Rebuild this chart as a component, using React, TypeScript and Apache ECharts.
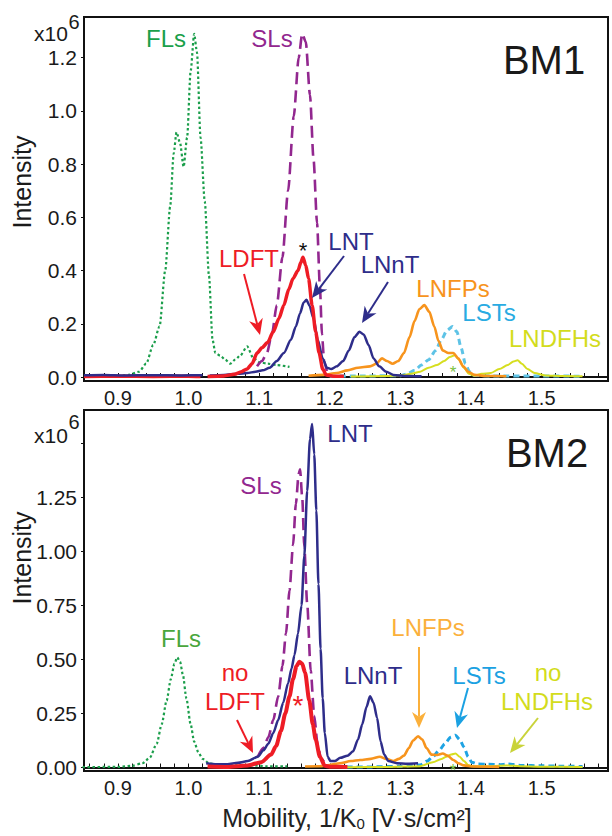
import React, { useEffect, useRef } from "react";
import * as echarts from "echarts";

// ---------- DATA (x = mobility 1/K0, y = intensity x10^6) ----------
const xTicks = [0.9, 1.0, 1.1, 1.2, 1.3, 1.4, 1.5];
const yTicksTop = [0, 0.2, 0.4, 0.6, 0.8, 1.0, 1.2];
const yTicksBottom = [0, 0.25, 0.5, 0.75, 1.0, 1.25];

// BM1
const bm1FLs = [[0.9,0.003],[0.915,0.008],[0.93,0.02],[0.94,0.05],[0.95,0.12],[0.959,0.19],[0.967,0.40],[0.974,0.64],[0.979,0.84],[0.983,0.92],[0.988,0.88],[0.993,0.79],[0.998,0.90],[1.003,1.15],[1.008,1.29],[1.012,1.22],[1.017,0.90],[1.023,0.66],[1.029,0.38],[1.034,0.14],[1.038,0.09],[1.045,0.08],[1.052,0.065],[1.059,0.05],[1.066,0.065],[1.073,0.08],[1.083,0.115],[1.092,0.07],[1.101,0.055],[1.112,0.05],[1.125,0.045],[1.143,0.038]];
const bm1SLs = [[1.097,0.04],[1.104,0.06],[1.111,0.09],[1.118,0.16],[1.125,0.27],[1.133,0.45],[1.141,0.70],[1.149,0.98],[1.156,1.20],[1.161,1.29],[1.166,1.26],[1.172,1.06],[1.177,0.82],[1.182,0.58],[1.186,0.34],[1.189,0.16],[1.192,0.06],[1.196,0.02]];
const bm1LNT = [[0.852,0.007],[0.88,0.008],[0.91,0.006],[0.95,0.007],[0.99,0.006],[1.02,0.007],[1.025,"-"],[1.03,0.006],[1.05,0.008],[1.07,0.012],[1.083,0.015],[1.095,0.02],[1.105,0.025],[1.115,0.035],[1.125,0.06],[1.135,0.09],[1.145,0.14],[1.152,0.19],[1.158,0.24],[1.163,0.28],[1.167,0.29],[1.171,0.27],[1.177,0.22],[1.183,0.14],[1.19,0.07],[1.196,0.035],[1.202,0.03],[1.21,0.04],[1.219,0.06],[1.227,0.10],[1.235,0.15],[1.242,0.17],[1.248,0.16],[1.255,0.12],[1.262,0.07],[1.27,0.04],[1.28,0.02],[1.29,0.008],[1.31,0.004],[1.33,0.003]];
const bm1LDFT = [[0.852,0.002],[0.9,0.003],[0.95,0.002],[1.0,0.003],[1.017,0.002],[1.022,"-"],[1.027,0.002],[1.05,0.004],[1.065,0.01],[1.075,0.02],[1.083,0.03],[1.09,0.05],[1.097,0.09],[1.104,0.11],[1.112,0.13],[1.12,0.17],[1.128,0.22],[1.135,0.27],[1.142,0.33],[1.148,0.37],[1.155,0.40],[1.159,0.43],[1.162,0.45],[1.166,0.42],[1.17,0.37],[1.175,0.27],[1.18,0.17],[1.185,0.09],[1.19,0.03],[1.195,0.008],[1.205,0.003],[1.22,0.003]];
const bm1LNFPs = [[1.17,0.005],[1.19,0.008],[1.21,0.015],[1.225,0.025],[1.24,0.035],[1.257,0.04],[1.266,0.05],[1.274,0.07],[1.281,0.06],[1.289,0.05],[1.297,0.06],[1.305,0.09],[1.313,0.15],[1.32,0.21],[1.327,0.255],[1.334,0.27],[1.341,0.245],[1.348,0.19],[1.354,0.135],[1.36,0.10],[1.368,0.09],[1.375,0.09],[1.382,0.07],[1.389,0.04],[1.396,0.02],[1.405,0.008],[1.42,0.004],[1.45,0.003]];
const bm1LSTs = [[1.2,0.003],[1.25,0.004],[1.3,0.005],[1.31,0.012],[1.32,0.025],[1.33,0.045],[1.34,0.065],[1.35,0.10],[1.358,0.14],[1.366,0.175],[1.374,0.19],[1.38,0.17],[1.386,0.11],[1.392,0.05],[1.398,0.02],[1.405,0.006],[1.43,0.004],[1.5,0.004],[1.555,0.003]];
const bm1LNDFHs = [[1.23,0.002],[1.28,0.004],[1.3,0.006],[1.315,0.012],[1.328,0.02],[1.34,0.035],[1.352,0.045],[1.362,0.06],[1.37,0.075],[1.377,0.082],[1.383,0.065],[1.39,0.035],[1.397,0.012],[1.405,0.005],[1.415,0.012],[1.428,0.015],[1.44,0.03],[1.452,0.045],[1.46,0.058],[1.466,0.063],[1.472,0.05],[1.48,0.03],[1.49,0.015],[1.505,0.006],[1.53,0.004],[1.558,0.003]];

// BM2
const bm2FLs = [[0.85,0.002],[0.9,0.003],[0.92,0.008],[0.935,0.02],[0.945,0.045],[0.955,0.11],[0.962,0.2],[0.969,0.31],[0.975,0.41],[0.98,0.48],[0.984,0.51],[0.988,0.49],[0.992,0.43],[0.997,0.32],[1.003,0.2],[1.008,0.12],[1.014,0.07],[1.02,0.04],[1.03,0.018],[1.045,0.012],[1.065,0.01],[1.09,0.01],[1.11,0.006],[1.14,0.005]];
const bm2SLs = [[1.098,0.05],[1.106,0.09],[1.113,0.14],[1.12,0.22],[1.127,0.33],[1.133,0.47],[1.138,0.62],[1.143,0.82],[1.148,1.03],[1.152,1.22],[1.156,1.36],[1.158,1.38],[1.161,1.25],[1.164,1.02],[1.168,0.76],[1.173,0.45],[1.178,0.24],[1.183,0.10],[1.188,0.04],[1.195,0.01]];
const bm2LNT = [[1.025,0.02],[1.04,0.015],[1.055,0.015],[1.07,0.022],[1.084,0.03],[1.098,0.05],[1.106,0.08],[1.113,0.11],[1.12,0.16],[1.127,0.22],[1.134,0.30],[1.141,0.39],[1.146,0.46],[1.15,0.52],[1.155,0.62],[1.16,0.75],[1.164,0.98],[1.168,1.28],[1.172,1.52],[1.175,1.59],[1.178,1.45],[1.181,1.19],[1.184,0.85],[1.187,0.55],[1.19,0.32],[1.193,0.16],[1.197,0.05],[1.201,0.03],[1.207,0.03],[1.215,0.045],[1.225,0.055],[1.233,0.075],[1.24,0.13],[1.246,0.2],[1.252,0.28],[1.257,0.33],[1.262,0.3],[1.267,0.23],[1.272,0.12],[1.277,0.06],[1.283,0.03],[1.295,0.02],[1.31,0.018],[1.325,0.02]];
const bm2LDFT = [[1.027,0.005],[1.055,0.003],[1.084,0.01],[1.103,0.025],[1.117,0.06],[1.124,0.1],[1.131,0.17],[1.137,0.25],[1.143,0.33],[1.148,0.41],[1.153,0.47],[1.157,0.49],[1.161,0.48],[1.165,0.44],[1.171,0.31],[1.176,0.2],[1.18,0.13],[1.186,0.05],[1.193,0.008],[1.2,0.004],[1.225,0.003]];
const bm2LNFPs = [[1.165,0.005],[1.186,0.006],[1.2,0.012],[1.214,0.02],[1.23,0.03],[1.243,0.035],[1.258,0.04],[1.271,0.05],[1.28,0.04],[1.29,0.03],[1.298,0.04],[1.305,0.055],[1.312,0.09],[1.318,0.125],[1.325,0.145],[1.331,0.13],[1.337,0.09],[1.344,0.06],[1.352,0.058],[1.36,0.065],[1.367,0.055],[1.375,0.035],[1.382,0.02],[1.39,0.01],[1.403,0.005],[1.44,0.003]];
const bm2LSTs = [[1.224,0.002],[1.26,0.003],[1.3,0.006],[1.328,0.012],[1.338,0.03],[1.346,0.05],[1.355,0.08],[1.363,0.11],[1.371,0.14],[1.378,0.15],[1.384,0.13],[1.39,0.095],[1.396,0.05],[1.401,0.025],[1.41,0.016],[1.425,0.015],[1.44,0.013],[1.452,0.016],[1.47,0.01],[1.5,0.008],[1.53,0.006],[1.558,0.005]];
const bm2LNDFHs = [[1.224,0.001],[1.28,0.003],[1.328,0.006],[1.346,0.025],[1.358,0.04],[1.365,0.05],[1.372,0.06],[1.378,0.065],[1.384,0.05],[1.39,0.03],[1.396,0.012],[1.403,0.006],[1.43,0.006],[1.45,0.01],[1.47,0.006],[1.5,0.004],[1.558,0.003]];

// ---------- STYLE ----------
const C = {
  green: "#1b9e4b",
  purple: "#92278f",
  navy: "#2e2d8a",
  red: "#ee1c25",
  orange: "#f7941d",
  cyanTop: "#5ec3e6",
  cyanBot: "#1ea3e3",
  yellow: "#d6de1f",
};
const FONT = '"Liberation Sans", Arial, sans-serif';

function xMinorTicks() {
  const v: number[] = [];
  for (let i = 43; i <= 79; i++) v.push(Math.round(i * 2) / 100);
  return v;
}

// split a series at "-" gap markers
function segments(data: any[]) {
  const out: any[][] = [[]];
  data.forEach((p) => {
    if (p[1] === "-") out.push([]);
    else out[out.length - 1].push(p);
  });
  return out.filter((s) => s.length);
}

function makeXAxis(gridIndex: number) {
  return {
    type: "value",
    gridIndex,
    min: 0.852,
    max: 1.594,
    axisLine: { show: true, lineStyle: { color: "#111", width: 2 } },
    axisTick: { show: true, inside: true, length: 4, customValues: xMinorTicks(), lineStyle: { color: "#111", width: 1 } },
    axisLabel: { customValues: xTicks, color: "#1a1a1a", fontSize: 20, fontFamily: FONT, margin: 7, formatter: (v: number) => v.toFixed(1) },
    splitLine: { show: false },
  };
}

function makeYAxis(gridIndex: number, min: number, max: number, ticks: number[], dec: number, tickVals: number[]) {
  return {
    type: "value",
    gridIndex,
    min,
    max,
    axisLine: { show: true, lineStyle: { color: "#111", width: 2 } },
    axisTick: { show: true, inside: false, length: 3, customValues: tickVals, lineStyle: { color: "#111" } },
    axisLabel: { customValues: ticks, color: "#1a1a1a", fontSize: 21, fontFamily: FONT, margin: 7, formatter: (v: number) => v.toFixed(dec) },
    splitLine: { show: false },
  };
}

function line(name: string, data: any[], gi: number, color: string, width: number, type: any, z = 2) {
  return {
    name,
    type: "line",
    xAxisIndex: gi,
    yAxisIndex: gi,
    data,
    showSymbol: false,
    symbol: "none",
    smooth: 0.25,
    smoothMonotone: "x",
    z,
    lineStyle: { color, width, type, cap: "butt" },
  };
}

function lines(name: string, data: any[], gi: number, color: string, width: number, type: any, zs: number[]) {
  return segments(data).map((seg, i) => line(name, seg, gi, color, width, type, zs[Math.min(i, zs.length - 1)]));
}

function txt(x: number, y: number, s: string, color: string, size = 24, extra: any = {}) {
  return {
    type: "text",
    x,
    y,
    z: 100,
    style: { text: s, fill: color, fontSize: size, fontFamily: FONT, align: "center", verticalAlign: "middle", ...extra },
  };
}

function arrow(x1: number, y1: number, x2: number, y2: number, color: string, w = 2) {
  const dx = x2 - x1, dy = y2 - y1;
  const L = Math.hypot(dx, dy);
  const ux = dx / L, uy = dy / L;
  const hl = 16, hw = 7;
  const bx = x2 - ux * hl, by = y2 - uy * hl;
  const nx = x2 - ux * hl * 0.7, ny = y2 - uy * hl * 0.7;
  return [
    { type: "line", z: 100, shape: { x1, y1, x2: nx, y2: ny }, style: { stroke: color, lineWidth: w } },
    {
      type: "polygon",
      z: 100,
      shape: { points: [[x2, y2], [bx - uy * hw, by + ux * hw], [nx, ny], [bx + uy * hw, by - ux * hw]] },
      style: { fill: color },
    },
  ];
}

export default function App() {
  const ref = useRef<HTMLDivElement>(null);
  useEffect(() => {
    if (!ref.current) return;
    const chart = echarts.init(ref.current, null, { renderer: "svg" });
    const dash: any = [12, 6];
    const dot: any = [2.5, 2.5];
    const option: any = {
      animation: false,
      backgroundColor: "#fff",
      grid: [
        { left: 84, top: 17, width: 524, height: 364, show: true, borderColor: "#111", borderWidth: 2, backgroundColor: "transparent" },
        { left: 84, top: 410, width: 524, height: 361, show: true, borderColor: "#111", borderWidth: 2, backgroundColor: "transparent" },
      ],
      xAxis: [makeXAxis(0), makeXAxis(1)],
      yAxis: [
        makeYAxis(0, -0.015, 1.353, yTicksTop, 1, yTicksTop),
        makeYAxis(1, -0.016, 1.655, yTicksBottom, 2, [...yTicksBottom, 1.5]),
      ],
      series: [
        line("BM1 FLs", bm1FLs, 0, C.green, 2.2, dot),
        line("BM1 SLs", bm1SLs, 0, C.purple, 2.6, dash),
        line("BM1 LSTs", bm1LSTs, 0, C.cyanTop, 3, [6, 4]),
        line("BM1 LNDFHs", bm1LNDFHs, 0, C.yellow, 2),
        line("BM1 LNFPs", bm1LNFPs, 0, C.orange, 2.6, "solid"),
        ...lines("BM1 LNT", bm1LNT, 0, C.navy, 2.5, "solid", [3]),
        ...lines("BM1 LDFT", bm1LDFT, 0, C.red, 3.5, "solid", [2.5, 4]),
        line("BM2 FLs", bm2FLs, 1, C.green, 2.2, dot),
        line("BM2 SLs", bm2SLs, 1, C.purple, 2.6, dash),
        line("BM2 LSTs", bm2LSTs, 1, C.cyanBot, 3, [6, 4]),
        line("BM2 LNDFHs", bm2LNDFHs, 1, C.yellow, 2),
        line("BM2 LNFPs", bm2LNFPs, 1, C.orange, 2.6, "solid"),
        line("BM2 LNT", bm2LNT, 1, C.navy, 2.5, "solid", 3),
        line("BM2 LDFT", bm2LDFT, 1, C.red, 4, "solid", 4),
      ],
      graphic: [
        // axis multipliers
        txt(51, 33, "x10", "#1a1a1a", 21),
        txt(74, 22, "6", "#1a1a1a", 20),
        txt(51, 435, "x10", "#1a1a1a", 21),
        txt(74, 422, "6", "#1a1a1a", 20),
        // y titles
        { ...txt(22, 182, "Intensity", "#1a1a1a", 25), rotation: Math.PI / 2 },
        { ...txt(22, 558, "Intensity", "#1a1a1a", 25), rotation: Math.PI / 2 },
        // x title
        {
          type: "text",
          x: 347,
          y: 818,
          z: 100,
          style: {
            text: "{a|Mobility, 1/K}{s|0}{a| [V·s/cm²]}",
            align: "center",
            verticalAlign: "middle",
            fill: "#222",
            rich: {
              a: { fontSize: 25, fontFamily: FONT, fill: "#222" },
              s: { fontSize: 15, fontFamily: FONT, fill: "#222", padding: [10, 0, 0, 0] },
            },
          },
        },
        // panel names
        txt(544, 60, "BM1", "#1a1a1a", 40),
        txt(547, 453, "BM2", "#1a1a1a", 40),
        // BM1 labels
        txt(166, 38, "FLs", "#1aa04a"),
        txt(272, 38, "SLs", C.purple),
        txt(249, 258, "LDFT", C.red),
        txt(351, 241, "LNT", C.navy),
        txt(390, 264, "LNnT", C.navy),
        txt(453, 288, "LNFPs", C.orange),
        txt(489, 312, "LSTs", "#29abe2"),
        txt(555, 338, "LNDFHs", "#d3dc1c"),
        txt(303, 250, "*", "#111", 22),
        txt(453, 372, "*", "#7cc242", 17),
        ...arrow(244, 274, 260, 335, C.red),
        ...arrow(344, 256, 312, 298, C.navy),
        ...arrow(388, 282, 362, 323, C.navy),
        // BM2 labels
        txt(350, 433, "LNT", C.navy),
        txt(261, 485, "SLs", C.purple),
        txt(181, 638, "FLs", "#4aa63c"),
        txt(235, 672, "no", C.red),
        txt(235, 701, "LDFT", C.red),
        txt(373, 675, "LNnT", C.navy),
        txt(428, 627, "LNFPs", "#fbb03b"),
        txt(479, 675, "LSTs", "#1ba1e2"),
        txt(548, 672, "no", "#d3dc1c"),
        txt(547, 701, "LNDFHs", "#d3dc1c"),
        txt(298, 705, "*", C.red, 28),
        txt(453, 770, "*", "#7cc242", 17),
        ...arrow(237, 720, 253, 753, C.red),
        ...arrow(419, 647, 419, 728, "#fbb03b"),
        ...arrow(468, 688, 457, 728, "#1ba1e2"),
        ...arrow(538, 718, 510, 753, "#c9d33a"),
      ],
    };
    chart.setOption(option);
    return () => chart.dispose();
  }, []);
  return <div ref={ref} style={{ position: "fixed", left: 0, top: 0, width: 612, height: 836, background: "#fff" }} />;
}
